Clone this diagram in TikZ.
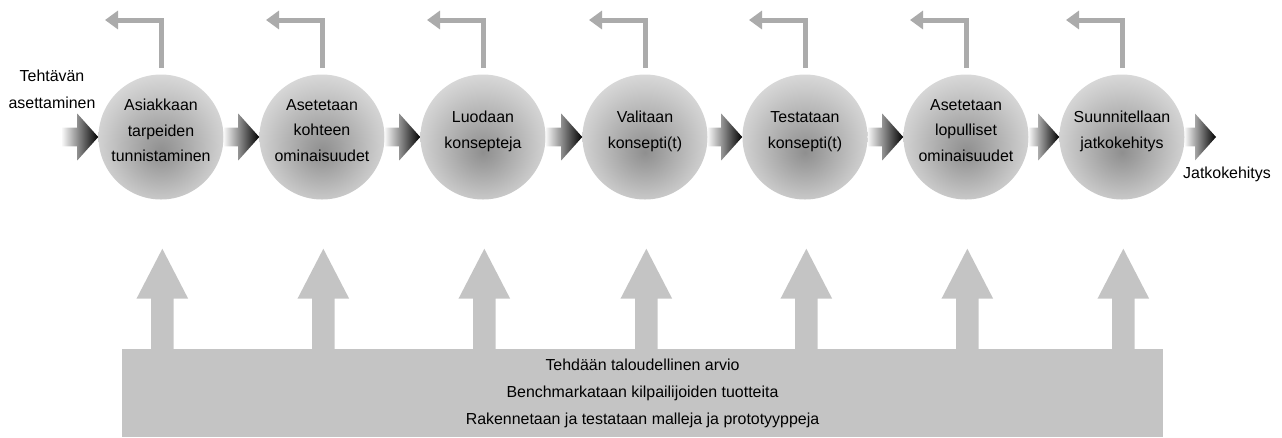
\documentclass[tikz,border=0pt]{standalone}
\usepackage{fontspec}
\setmainfont{Liberation Sans}
\usetikzlibrary{calc,arrows.meta}

\colorlet{ballA}{black!44}
\colorlet{ballB}{black!37}
\colorlet{ballC}{black!21}
\colorlet{ballD}{black!12}
\pgfdeclareradialshading{ballshade}{\pgfpoint{0bp}{-6bp}}{color(0bp)=(ballA); color(7bp)=(ballB); color(22bp)=(ballC); color(31bp)=(ballD); color(50bp)=(ballD)}

\tikzset{
  txt/.style={font=\fontsize{11.95pt}{19.2pt}\selectfont, align=center, inner sep=0pt},
  ball/.style={circle, minimum size=93.75pt, inner sep=0pt, shade, shading=ballshade},
  fb/.style={draw=black!33, line width=3.75pt, -{Triangle[width=13.5pt,length=9.75pt]}},
  flow/.style={left color=black!3, right color=black},
  basebox/.style={fill=black!23, minimum width=780.75pt, minimum height=66pt, inner sep=0pt},
  upfill/.style={fill=black!23}
}

% block arrow between two points
\newcommand{\flowarr}[2]{%
  \shade[flow] let \p1=(#1), \p2=(#2) in
    (\x1,\y1+7.1pt) -- (\x2-15.75pt,\y1+7.1pt) -- (\x2-15.75pt,\y1+17.6pt) -- (\x2,\y1)
    -- (\x2-15.75pt,\y1-17.6pt) -- (\x2-15.75pt,\y1-7.1pt) -- (\x1,\y1-7.1pt) -- cycle;}
% broad arrow from the base up to a circle
\newcommand{\uparr}[1]{%
  \fill[upfill] let \p1=(#1), \p2=(base.north) in
    (\x1-7.5pt,\y2-1pt) -- (\x1-7.5pt,\y2+37.5pt) -- (\x1-18.4pt,\y2+37.5pt) -- (\x1+1pt,\y2+75pt)
    -- (\x1+20.4pt,\y2+37.5pt) -- (\x1+9.5pt,\y2+37.5pt) -- (\x1+9.5pt,\y2-1pt) -- cycle;}

\begin{document}
\begin{tikzpicture}[x=0.75pt, y=-0.75pt]
\useasboundingbox (0,0) rectangle (1282,437);

% process
\node[ball] (c1) at (161,137) {};
\node[ball] (c2) at (322,137) {};
\node[ball] (c3) at (483,137) {};
\node[ball] (c4) at (645,137) {};
\node[ball] (c5) at (805,137) {};
\node[ball] (c6) at (966,137) {};
\node[ball] (c7) at (1122,137) {};

\node[txt] (t1) at ([yshift=5pt]c1.center) {Asiakkaan\\tarpeiden\\tunnistaminen};
\node[txt] (t2) at ([yshift=5pt]c2.center) {Asetetaan\\kohteen\\ominaisuudet};
\node[txt] (t3) at ([yshift=4pt]c3.center) {Luodaan\\konsepteja};
\node[txt] (t4) at ([yshift=4pt]c4.center) {Valitaan\\konsepti(t)};
\node[txt] (t5) at ([yshift=4pt]c5.center) {Testataan\\konsepti(t)};
\node[txt] (t6) at ([yshift=5pt]c6.center) {Asetetaan\\lopulliset\\ominaisuudet};
\node[txt] (t7) at ([yshift=4pt]c7.center) {Suunnitellaan\\jatkokehitys};

\coordinate (in) at (62,137);
\coordinate (out) at (1216,137);
\node[txt, align=center] (start) at (52,89) {Tehtävän\\[1pt]asettaminen};
\node[txt] (end) at (1227,174) {Jatkokehitys};

\flowarr{in}{c1.west}
\foreach \i/\j in {1/2,2/3,3/4,4/5,5/6,6/7}
  \flowarr{c\i.east}{c\j.west};
\flowarr{c7.east}{out}

% feedback
\foreach \i/\x in {1/161,2/322,3/483,4/645,5/805,6/966,7/1122} {
  \coordinate (f\i) at (\x-56,20);
  \draw[fb] ([yshift=4.5pt]c\i.north) |- (f\i);
}

% support activities
\node[basebox, txt, font=\fontsize{11.95pt}{20.25pt}\selectfont] (base) at (642.5,393)
  {Tehdään taloudellinen arvio\\Benchmarkataan kilpailijoiden tuotteita\\Rakennetaan ja testataan malleja ja prototyyppeja};
\foreach \i in {1,...,7}
  \uparr{c\i};
\end{tikzpicture}
\end{document}
